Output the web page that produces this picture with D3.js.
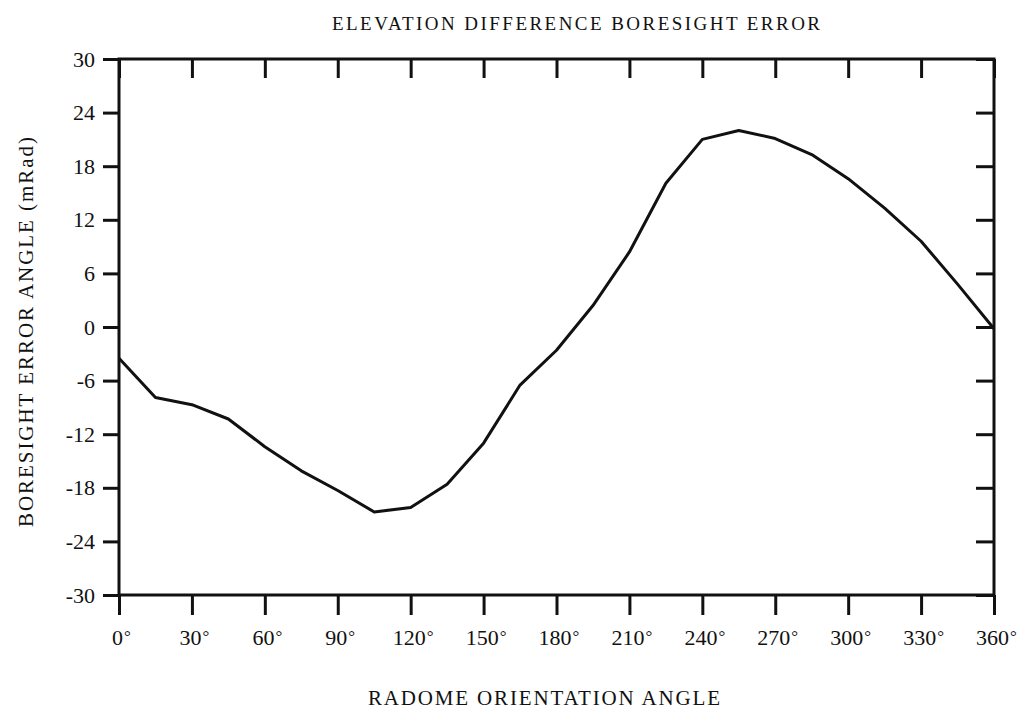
<!DOCTYPE html>
<html>
<head>
<meta charset="utf-8">
<script src="https://cdn.jsdelivr.net/npm/d3@7"></script>
<style>
  html, body { margin: 0; padding: 0; background: #fff; }
  svg { display: block; }
  text { font-family: "Liberation Serif", "DejaVu Serif", serif; fill: #111; }
</style>
</head>
<body>
<svg id="chart" width="1029" height="713"></svg>
<script>
// ---- data ----
const orientationDeg = [0, 15, 30, 45, 60, 75, 90, 105, 120, 135, 150, 165, 180,
                        195, 210, 225, 240, 255, 270, 285, 300, 315, 330, 345, 360];
const boresightError = [-3.5, -7.9, -8.7, -10.3, -13.4, -16.1, -18.3, -20.7, -20.2, -17.6, -13.0, -6.5, -2.6,
                        2.4, 8.4, 16.1, 21.0, 22.0, 21.1, 19.3, 16.6, 13.3, 9.6, 4.8, -0.2];
const xTickValues = [0, 30, 60, 90, 120, 150, 180, 210, 240, 270, 300, 330, 360];
const yTickValues = [-30, -24, -18, -12, -6, 0, 6, 12, 18, 24, 30];
const titleText = "ELEVATION DIFFERENCE BORESIGHT ERROR";
const xTitle = "RADOME ORIENTATION ANGLE";
const yTitle = "BORESIGHT ERROR ANGLE (mRad)";

// ---- layout ----
const svg = d3.select("#chart");
const plotLeft = 119, plotRight = 994, plotTop = 59, plotBottom = 595;
const x = d3.scaleLinear().domain([0, 360]).range([plotLeft, plotRight]);
const y = d3.scaleLinear().domain([-30, 30]).range([plotBottom, plotTop]);
const ink = "#111";

function styleAxis(g) {
  g.select(".domain").remove();
  g.selectAll(".tick line").attr("stroke", ink).attr("stroke-width", 3);
}

// left axis (outward ticks with labels)
const gl = svg.append("g").attr("transform", `translate(${plotLeft},0)`)
  .call(d3.axisLeft(y).tickValues(yTickValues).tickSize(16).tickPadding(8).tickFormat(d => String(d)));
styleAxis(gl);
gl.selectAll(".tick text").attr("font-size", 22).attr("fill", ink)
  .attr("font-family", "Liberation Serif, serif").attr("x", -24);

// right axis (inward ticks)
const gr = svg.append("g").attr("transform", `translate(${plotRight},0)`)
  .call(d3.axisLeft(y).tickValues(yTickValues).tickSize(18).tickFormat(""));
styleAxis(gr);

// top axis (inward ticks)
const gt = svg.append("g").attr("transform", `translate(0,${plotTop})`)
  .call(d3.axisBottom(x).tickValues(xTickValues).tickSize(19).tickFormat(""));
styleAxis(gt);

// bottom axis (outward ticks with degree labels)
const gb = svg.append("g").attr("transform", `translate(0,${plotBottom})`)
  .call(d3.axisBottom(x).tickValues(xTickValues).tickSize(20).tickPadding(0).tickFormat(d => String(d)));
styleAxis(gb);
gb.selectAll(".tick text").each(function() {
  const t = d3.select(this);
  t.attr("font-size", 22).attr("fill", ink).attr("font-family", "Liberation Serif, serif")
   .attr("dy", null).attr("y", 50).attr("text-anchor", "middle").attr("x", 2);
  t.append("tspan").attr("dx", 1).attr("font-size", 17).attr("dy", -3).text("°");
});

// frame
svg.append("rect")
  .attr("x", plotLeft).attr("y", plotTop)
  .attr("width", plotRight - plotLeft).attr("height", plotBottom - plotTop)
  .attr("fill", "none").attr("stroke", ink).attr("stroke-width", 3);

// curve
const line = d3.line().x((d, i) => x(orientationDeg[i])).y(d => y(d));
svg.append("path")
  .datum(boresightError)
  .attr("d", line)
  .attr("fill", "none")
  .attr("stroke", ink)
  .attr("stroke-width", 3)
  .attr("stroke-linejoin", "round");

// titles
svg.append("text")
  .attr("x", 332).attr("y", 30)
  .attr("font-size", 19)
  .attr("textLength", 488).attr("lengthAdjust", "spacing")
  .text(titleText);

svg.append("text")
  .attr("x", 368).attr("y", 705)
  .attr("font-size", 21)
  .attr("textLength", 352).attr("lengthAdjust", "spacing")
  .text(xTitle);

svg.append("text")
  .attr("transform", "translate(33,527) rotate(-90)")
  .attr("x", 0).attr("y", 0)
  .attr("font-size", 21)
  .attr("textLength", 390).attr("lengthAdjust", "spacing")
  .text(yTitle);
</script>
</body>
</html>
